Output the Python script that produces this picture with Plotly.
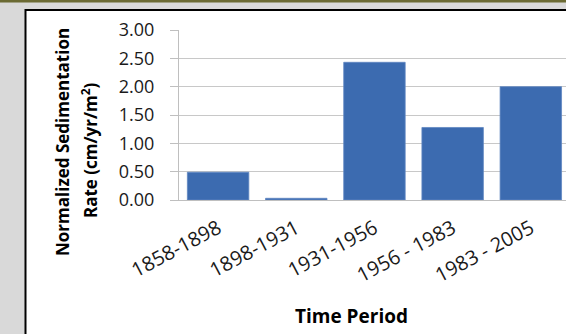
import plotly.graph_objects as go

# Sedimentation rate per time period
periods = ["1858-1898", "1898-1931", "1931-1956", "1956 - 1983", "1983 - 2005"]
rates = [0.49, 0.03, 2.43, 1.28, 2.00]
y_ticks = [0.0, 0.5, 1.0, 1.5, 2.0, 2.5, 3.0]

W, H = 566, 334
L, R, T, B = 179, 0, 30, 134
PW, PH = W - L - R, H - T - B


def px(x):
    return (x - L) / PW


def py(y):
    return (H - B - y) / PH


FONT = "Open Sans"
TITLE_FONT = dict(family=FONT, size=17, color="black", weight="bold")

fig = go.Figure(
    go.Bar(
        x=periods,
        y=rates,
        marker=dict(color="#3c6bb0", line=dict(color="#5f86c2", width=0.8)),
    )
)

fig.update_layout(
    width=W,
    height=H,
    margin=dict(l=L, r=R, t=T, b=B, pad=0),
    paper_bgcolor="#d9d9d9",
    plot_bgcolor="rgba(0,0,0,0)",
    bargap=0.214,
    showlegend=False,
    font=dict(family=FONT, size=18, color="#1a1a1a"),
    shapes=[
        # dark band along the top edge
        dict(type="rect", xref="paper", yref="paper", layer="below",
             x0=px(0), x1=px(W), y0=py(0), y1=py(2.5),
             fillcolor="#6b6a33", line=dict(width=0)),
        # white chart frame
        dict(type="rect", xref="paper", yref="paper", layer="below",
             x0=px(25.5), x1=px(W + 20), y0=py(10), y1=py(H + 20),
             fillcolor="white", line=dict(color="black", width=2)),
    ],
    annotations=[
        # y-axis title, two lines
        dict(text="Normalized Sedimentation",
             xref="paper", yref="paper", x=px(62), y=py(142),
             xanchor="center", yanchor="middle", textangle=-90,
             showarrow=False, font=TITLE_FONT),
        dict(text="Rate (cm/yr/m<sup>2</sup>)",
             xref="paper", yref="paper", x=px(89), y=py(151),
             xanchor="center", yanchor="middle", textangle=-90,
             showarrow=False, font=TITLE_FONT),
        # x-axis title
        dict(text="Time Period",
             xref="paper", yref="paper", x=px(351), y=py(316),
             xanchor="center", yanchor="middle",
             showarrow=False, font=dict(family=FONT, size=19, color="black", weight="bold")),
    ],
)

fig.update_xaxes(
    range=[-0.5, 4.45],
    showline=True,
    linecolor="#bfbfbf",
    linewidth=1,
    ticks="",
    tickangle=-28,
    ticklabelstandoff=8,
    tickfont=dict(family=FONT, size=20, color="#1a1a1a"),
    showgrid=False,
)

fig.update_yaxes(
    range=[0, 3],
    tickvals=y_ticks,
    tickformat=".2f",
    ticks="outside",
    ticklen=8,
    tickcolor="#bfbfbf",
    ticklabelstandoff=12,
    showline=True,
    linecolor="#bfbfbf",
    linewidth=1,
    showgrid=True,
    gridcolor="#c8c8c8",
    gridwidth=1,
    zeroline=False,
    tickfont=dict(family=FONT, size=18, color="#1a1a1a"),
)

fig.write_html("out.html")
